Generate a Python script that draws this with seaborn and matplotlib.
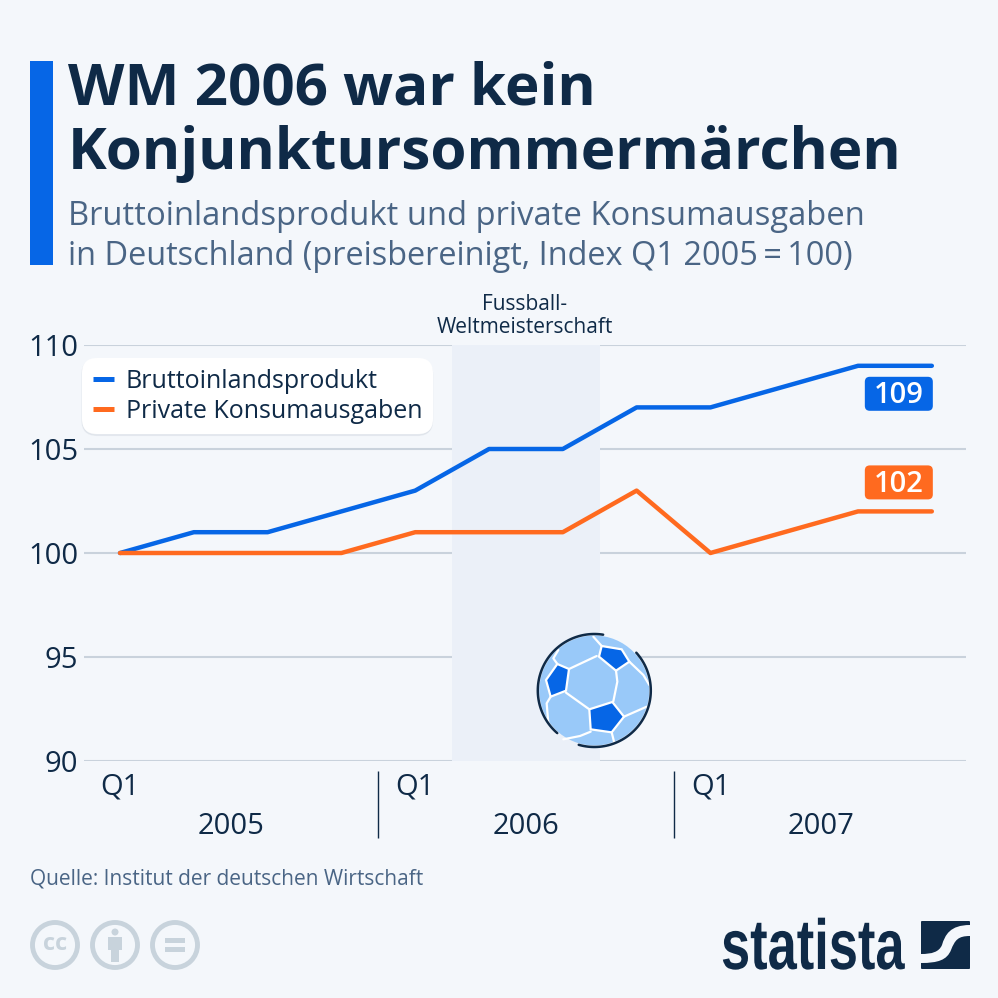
import numpy as np
import pandas as pd
import matplotlib
matplotlib.use("Agg")
import matplotlib.pyplot as plt
import seaborn as sns
from matplotlib.patches import Circle, FancyBboxPatch, PathPatch, Polygon, Rectangle
from matplotlib.path import Path
from matplotlib.patheffects import AbstractPathEffect
from matplotlib.transforms import Affine2D

# Daten
QUARTALE = list(range(12))
BIP = [100, 101, 101, 102, 103, 105, 105, 107, 107, 108, 109, 109]
KONSUM = [100, 100, 100, 100, 101, 101, 101, 103, 100, 101, 102, 102]
JAHRE = ["2005", "2006", "2007"]
Y_TICKS = [90, 95, 100, 105, 110]
SERIEN = ["Bruttoinlandsprodukt", "Private Konsumausgaben"]

BG = "#f4f7fb"
BLAU = "#0666e6"
ORANGE = "#ff6a1f"
DUNKEL = "#0f2a47"
GRAU = "#4a6585"
GRID = "#c9d2dc"
HELLBLAU = "#99c9f9"


# Schmalere Schrift fuer das Logo
class Stauchen(AbstractPathEffect):
    def __init__(self, x0, y0, sx):
        self.t = Affine2D().translate(-x0, -y0).scale(sx, 1).translate(x0, y0)

    def draw_path(self, renderer, gc, tpath, affine, rgbFace=None):
        renderer.draw_path(gc, tpath, affine + self.t, rgbFace)


sns.set_theme(style="white")
plt.rcParams["font.family"] = ["Open Sans", "DejaVu Sans"]

fig = plt.figure(figsize=(9.98, 9.98), dpi=100, facecolor=BG)
ax = fig.add_axes([84 / 998, 1 - 761 / 998, 882 / 998, 416 / 998], facecolor="none")

df = pd.DataFrame({
    "Quartal": QUARTALE * 2,
    "Wert": BIP + KONSUM,
    "Serie": [SERIEN[0]] * 12 + [SERIEN[1]] * 12,
})

# WM-Zeitraum
ax.axvspan(4.5, 6.5, color="#ebf0f8", lw=0, zorder=1.5)
sns.lineplot(data=df, x="Quartal", y="Wert", hue="Serie", palette=[BLAU, ORANGE],
             linewidth=3.2, ax=ax, zorder=3, errorbar=None)

ax.set_xlim(-0.488, 11.463)
ax.set_ylim(90, 110)
ax.set_xlabel("")
ax.set_ylabel("")
ax.set_yticks(Y_TICKS)
ax.set_xticks([0, 4, 8], ["Q1"] * 3)
ax.set_xticks([1.5, 5.5, 9.5], JAHRE, minor=True)
ax.tick_params(axis="y", length=0, pad=4, labelsize=21, labelcolor=DUNKEL)
ax.tick_params(axis="x", which="major", length=0, pad=8, labelsize=21, labelcolor=DUNKEL)
ax.tick_params(axis="x", which="minor", length=0, pad=36.5, labelsize=21, labelcolor=DUNKEL)
ax.yaxis.grid(True, color=GRID, lw=1.5, zorder=1)
ax.xaxis.grid(False)
ax.set_axisbelow(True)
for s in ax.spines.values():
    s.set_visible(False)

# Jahrestrenner
ax.vlines([3.5, 7.5], -0.185, -0.024, transform=ax.get_xaxis_transform(),
          color=DUNKEL, lw=1, clip_on=False)

ax.annotate("Fussball-\nWeltmeisterschaft", xy=(5.48, 110), xytext=(0, 5),
            textcoords="offset points", ha="center", va="bottom", fontsize=15,
            color=DUNKEL, linespacing=1.1)

# Legende
handles, labels = ax.get_legend_handles_labels()
leg = ax.legend(handles, labels, loc="upper left", bbox_to_anchor=(82 / 998, 1 - 358 / 998),
                bbox_transform=fig.transFigure, frameon=True, fontsize=18, handlelength=0.84,
                handletextpad=0.48, labelspacing=0.2, borderpad=0.42, borderaxespad=0,
                fancybox=True, framealpha=1, facecolor="white", edgecolor="none",
                labelcolor=DUNKEL, shadow=dict(ox=0, oy=-1, color="#0f2a47", alpha=0.05))
leg.get_frame().set_boxstyle("round", pad=0, rounding_size=0.6)
leg.set_zorder(6)
for h in leg.get_lines():
    h.set_linewidth(3.6)
    h.set_solid_capstyle("butt")

# Overlay in Pixelkoordinaten
ov = fig.add_axes([0, 0, 1, 1], facecolor="none")
ov.set_xlim(0, 998)
ov.set_ylim(998, 0)
ov.axis("off")

# Endwerte
for werte, farbe, dy in [(BIP, BLAU, 28), (KONSUM, ORANGE, -29)]:
    px, py = ax.transData.transform((QUARTALE[-1], werte[-1]))
    cx, cy = px - 33, 998 - py + dy
    ov.add_patch(FancyBboxPatch((cx - 34, cy - 17), 68, 34, boxstyle="round,pad=0,rounding_size=5",
                                fc=farbe, ec="none", zorder=5))
    ov.text(cx, cy - 1.5, str(werte[-1]), fontsize=21, fontweight="semibold", color="white",
            ha="center", va="center_baseline", zorder=6)

ov.add_patch(Rectangle((30, 61), 23, 204, fc=BLAU, ec="none"))
ov.text(68, 104, "WM 2006 war kein", fontsize=42, fontweight="bold", color=DUNKEL, va="baseline")
ov.text(68, 169, "Konjunktursommermärchen", fontsize=42, fontweight="bold", color=DUNKEL, va="baseline")
ov.text(68, 225, "Bruttoinlandsprodukt und private Konsumausgaben", fontsize=23.6, color=GRAU, va="baseline")
ov.text(68, 265, "in Deutschland (preisbereinigt, Index Q1 2005\u2009=\u2009100)", fontsize=23.4, color=GRAU, va="baseline")
ov.text(30, 885, "Quelle: Institut der deutschen Wirtschaft", fontsize=15, color=GRAU, va="baseline")


# Fussball, Koordinaten aus dem 3x-Ausschnitt
def z(pts):
    return [(500 + x / 3, 600 + y / 3) for x, y in pts]


ov.add_patch(Circle((594.3, 690.5), 55, fc=HELLBLAU, ec="none", zorder=2))
for pts in [
    [(305, 138), (365, 148), (388, 185), (348, 212), (297, 170)],
    [(172, 192), (207, 207), (198, 272), (152, 290), (138, 240)],
    [(337, 306), (372, 350), (335, 397), (272, 388), (268, 328)],
]:
    ov.add_patch(Polygon(z(pts), closed=True, fc=BLAU, ec="white", lw=1.6, zorder=3))
for pts in [
    [(207, 207), (290, 168)],
    [(348, 212), (352, 245), (340, 304)],
    [(198, 278), (268, 328)],
    [(172, 192), (160, 175), (175, 150)],
    [(305, 138), (280, 110)],
    [(388, 185), (430, 225), (448, 255)],
    [(372, 350), (440, 320)],
    [(335, 397), (342, 425)],
    [(272, 395), (240, 408), (190, 418)],
    [(152, 290), (140, 310), (145, 370), (170, 402)],
]:
    xs, ys = zip(*z(pts))
    ov.plot(xs, ys, color="white", lw=1.6, zorder=4, solid_capstyle="round")
for a0, a1 in [(-81, -229), (106, -42)]:
    t = np.radians(np.linspace(a0, a1, 80))
    ov.plot(594.3 + 56.5 * np.cos(t), 690.5 + 56.5 * np.sin(t), color=DUNKEL, lw=1.8,
            zorder=5, solid_capstyle="round")

# CC-Symbole
CC = "#c8d3dc"
for cx in [55, 115, 175]:
    ov.add_patch(Circle((cx, 945), 22.5, fc="none", ec=CC, lw=3.5))
ov.text(55, 944, "cc", fontsize=17, fontweight="bold", color=CC, ha="center", va="center")
ov.add_patch(Circle((115, 932), 3.5, fc=CC, ec="none"))
ov.add_patch(Rectangle((108, 937), 14, 13, fc=CC, ec="none"))
ov.add_patch(Rectangle((111, 950), 8, 12, fc=CC, ec="none"))
ov.add_patch(Rectangle((165, 938), 20, 5, fc=CC, ec="none"))
ov.add_patch(Rectangle((165, 947), 20, 5, fc=CC, ec="none"))

# Statista-Logo
ov.text(721, 969, "statista", fontsize=51, fontweight="bold", color=DUNKEL, va="baseline",
        family=["Liberation Sans", "DejaVu Sans"], path_effects=[Stauchen(721, 998 - 969, 0.74)])
ov.add_patch(FancyBboxPatch((921, 921), 49, 48, boxstyle="round,pad=0,rounding_size=1",
                            fc=DUNKEL, ec="none"))
verts = [(970, 925), (950, 925), (945, 935), (942, 945),
         (939, 952), (932, 954), (921, 954),
         (921, 963),
         (938, 963), (947, 960), (951, 950),
         (955, 940), (958, 936), (970, 936),
         (970, 925)]
codes = [Path.MOVETO, Path.CURVE4, Path.CURVE4, Path.CURVE4, Path.CURVE4, Path.CURVE4, Path.CURVE4,
         Path.LINETO, Path.CURVE4, Path.CURVE4, Path.CURVE4, Path.CURVE4, Path.CURVE4, Path.CURVE4,
         Path.CLOSEPOLY]
ov.add_patch(PathPatch(Path(verts, codes), fc=BG, ec="none"))

fig.savefig("out.png", dpi=100, facecolor=BG)
